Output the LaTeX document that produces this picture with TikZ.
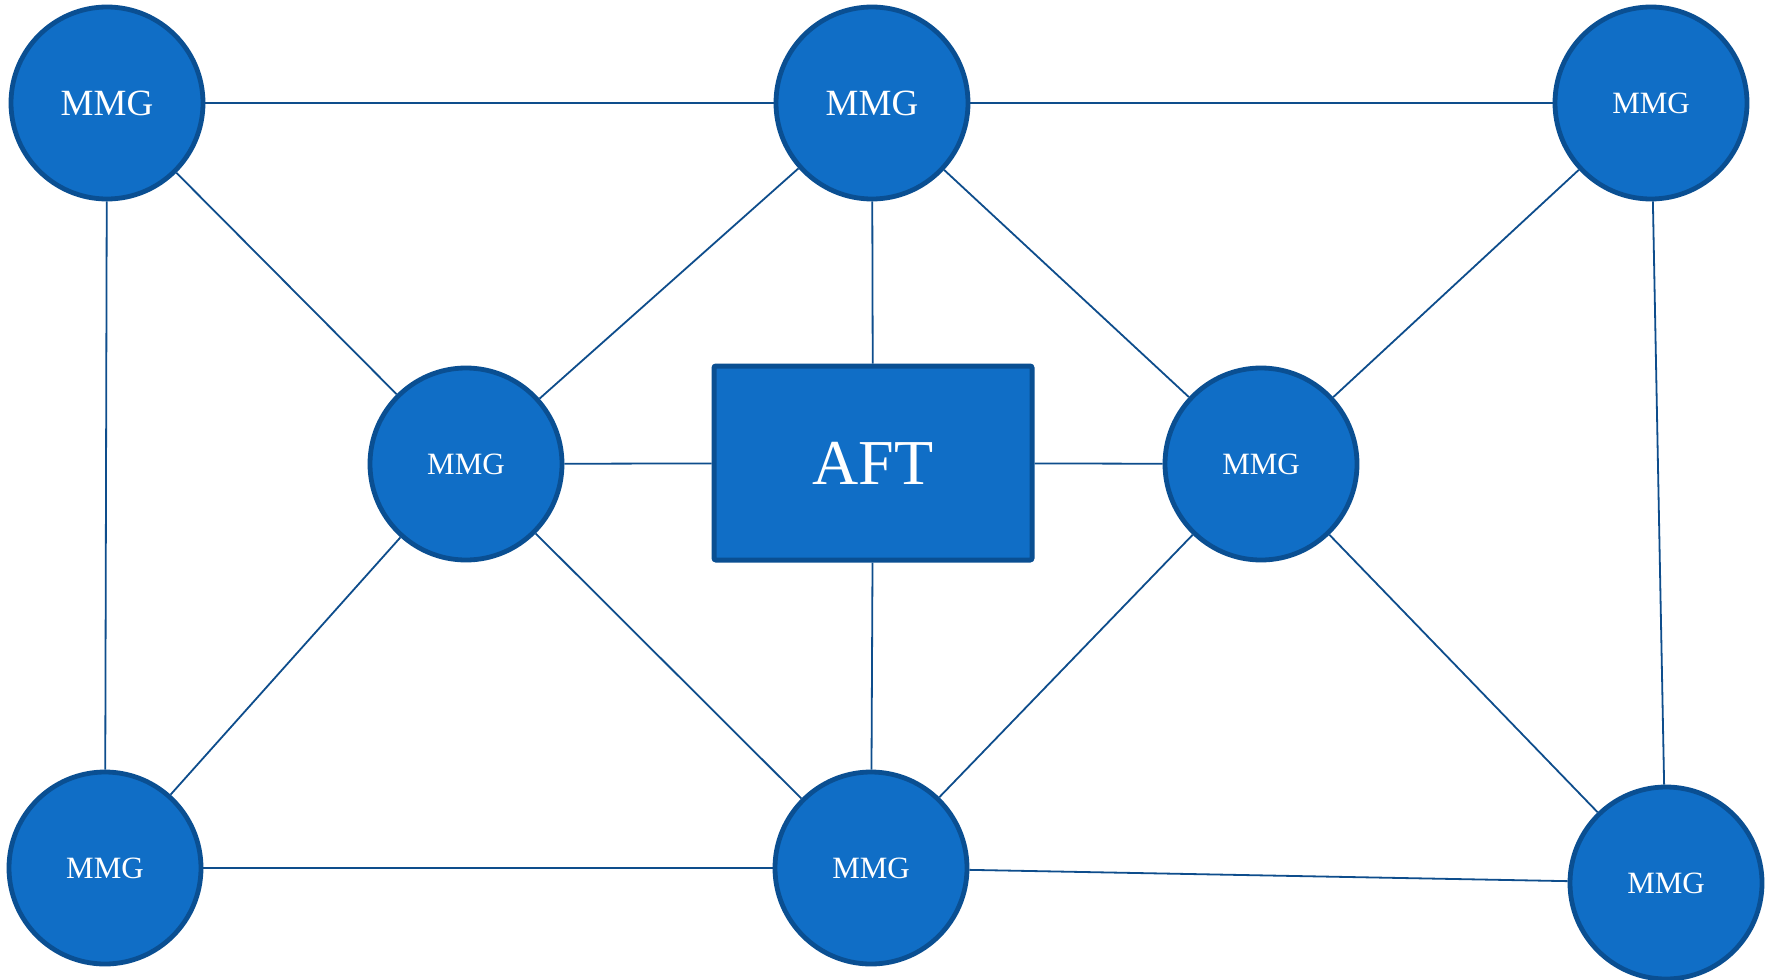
\documentclass[tikz,border=0pt]{standalone}
\usepackage{fontspec}
\setmainfont{Liberation Serif}

\definecolor{mmgfill}{HTML}{106EC6}
\definecolor{mmgline}{HTML}{0A4F92}
\definecolor{link}{HTML}{0E4D8C}

\tikzset{
  mmg/.style={circle, draw=mmgline, fill=mmgfill, line width=2.4pt,
    minimum size=96pt, inner sep=0pt, text=white, font=\fontsize{15.5}{16}\selectfont},
  mmgbig/.style={mmg, font=\fontsize{18.5}{19}\selectfont},
  aftbox/.style={rectangle, rounded corners=1pt, draw=mmgline, fill=mmgfill,
    line width=2.5pt, minimum width=159pt, minimum height=97pt,
    inner sep=0pt, text=white, font=\fontsize{32}{34}\selectfont},
  wire/.style={draw=link, line width=0.9pt}
}

\begin{document}
\begin{tikzpicture}[x=0.5pt, y=-0.5pt]
  % page
  \fill[white] (0,0) rectangle (1773,980);
  \useasboundingbox (0,0) rectangle (1773,980);

  % central controller
  \node[aftbox] (aft) at (873,463) {AFT};

  % microgrids
  \node[mmgbig] (tl) at (107,103) {MMG};
  \node[mmgbig] (tm) at (872,103) {MMG};
  \node[mmg] (tr) at (1651,103) {MMG};
  \node[mmg] (ml) at (466,464) {MMG};
  \node[mmg] (mr) at (1261,464) {MMG};
  \node[mmg] (bl) at (105,868) {MMG};
  \node[mmg] (bm) at (871,868) {MMG};
  \node[mmg] (br) at (1666,883) {MMG};

  % links
  \foreach \a/\b in {tl/tm, tm/tr, tl/bl, tl/ml, tm/ml, tm/aft, tm/mr,
                     tr/mr, tr/br, ml/aft, aft/mr, ml/bl, ml/bm,
                     aft/bm, mr/bm, mr/br, bl/bm, bm/br}
    \draw[wire] (\a) -- (\b);
\end{tikzpicture}
\end{document}
